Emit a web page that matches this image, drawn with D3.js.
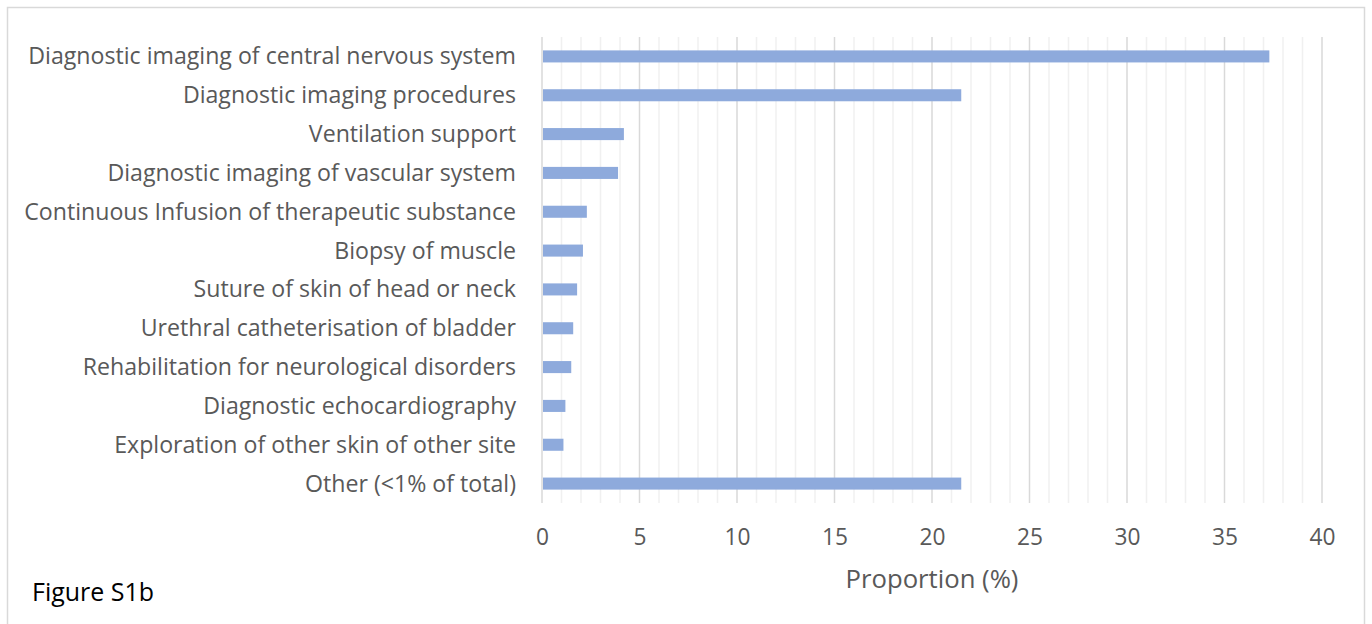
<!DOCTYPE html>
<html>
<head>
<meta charset="utf-8">
<script src="https://cdn.jsdelivr.net/npm/d3@7"></script>
<style>
  html, body { margin: 0; padding: 0; background: #fff; }
  svg { display: block; }
  text { font-family: "Open Sans", sans-serif; }
</style>
</head>
<body>
<svg id="chart" width="1372" height="624"></svg>
<script>
const categories = [
  "Diagnostic imaging of central nervous system",
  "Diagnostic imaging procedures",
  "Ventilation support",
  "Diagnostic imaging of vascular system",
  "Continuous Infusion of therapeutic substance",
  "Biopsy of muscle",
  "Suture of skin of head or neck",
  "Urethral catheterisation of bladder",
  "Rehabilitation for neurological disorders",
  "Diagnostic echocardiography",
  "Exploration of other skin of other site",
  "Other (<1% of total)"
];
const values = [37.3, 21.5, 4.2, 3.9, 2.3, 2.1, 1.8, 1.6, 1.5, 1.2, 1.1, 21.5];
const majorTicks = [0, 5, 10, 15, 20, 25, 30, 35, 40];
const minorTicks = d3.range(0, 41, 1);
const axisTitle = "Proportion (%)";
const figureLabel = "Figure S1b";

const svg = d3.select("#chart");

// size a font so a given string spans a target width
function fitSize(str, targetWidth) {
  const t = svg.append("text").attr("font-size", 20).text(str);
  const w = t.node().getComputedTextLength();
  t.remove();
  return 20 * targetWidth / w;
}

// outer border
svg.append("rect")
  .attr("x", 7.5).attr("y", 7.5)
  .attr("width", 1357).attr("height", 630)
  .attr("fill", "#fff").attr("stroke", "#d9d9d9").attr("stroke-width", 1.5);

const pLeft = 542, pRight = 1322, pTop = 37, pBottom = 503;

const x = d3.scaleLinear().domain([0, 40]).range([pLeft, pRight]);
const y = d3.scaleBand().domain(categories).range([pTop, pBottom]).paddingInner(0.69).paddingOuter(0.345);

// minor gridlines
svg.append("g").selectAll("line")
  .data(minorTicks.filter(d => d % 5 !== 0))
  .join("line")
  .attr("x1", d => x(d)).attr("x2", d => x(d))
  .attr("y1", pTop).attr("y2", pBottom)
  .attr("stroke", "#f0f0f0").attr("stroke-width", 1.5);

// major gridlines
svg.append("g").selectAll("line")
  .data(majorTicks)
  .join("line")
  .attr("x1", d => x(d)).attr("x2", d => x(d))
  .attr("y1", pTop).attr("y2", pBottom)
  .attr("stroke", "#d9d9d9").attr("stroke-width", 1.5);

// bars
svg.append("g").selectAll("rect")
  .data(values)
  .join("rect")
  .attr("x", x(0) + 1)
  .attr("y", (d, i) => y(categories[i]))
  .attr("width", d => x(d) - x(0) - 1)
  .attr("height", y.bandwidth())
  .attr("fill", "#8eaadc");

// category labels
const catSize = fitSize(categories[0], 488);
svg.append("g").selectAll("text")
  .data(categories)
  .join("text")
  .attr("x", 516)
  .attr("y", d => y(d) + y.bandwidth() / 2 + 8)
  .attr("text-anchor", "end")
  .attr("font-size", catSize)
  .attr("fill", "#595959")
  .text(d => d);

// x tick labels via axis
const tickSize = fitSize("10", 26);
const xAxis = d3.axisBottom(x).tickValues(majorTicks).tickSize(0).tickPadding(0);
const ax = svg.append("g").attr("transform", `translate(0, 545)`).call(xAxis);
ax.select(".domain").remove();
ax.selectAll("text")
  .attr("dy", null)
  .attr("y", 0)
  .attr("font-size", tickSize)
  .attr("fill", "#595959")
  .attr("font-family", "'Open Sans', sans-serif");

// axis title
svg.append("text")
  .attr("x", 932)
  .attr("y", 588)
  .attr("text-anchor", "middle")
  .attr("font-size", fitSize(axisTitle, 173))
  .attr("fill", "#595959")
  .text(axisTitle);

// figure label
svg.append("text")
  .attr("x", 32)
  .attr("y", 601)
  .attr("font-size", fitSize(figureLabel, 122))
  .attr("fill", "#000")
  .text(figureLabel);
</script>
</body>
</html>
